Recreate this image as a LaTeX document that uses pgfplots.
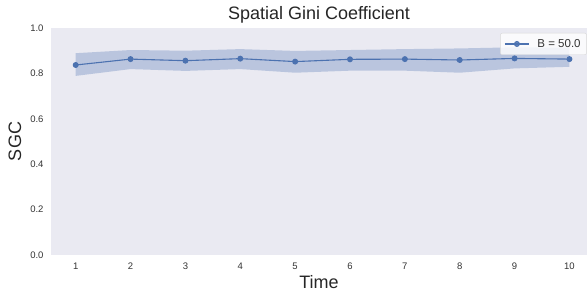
\documentclass[border=0pt]{standalone}
\usepackage{fontspec}
\setmainfont{Liberation Sans}
\usepackage{pgfplots}
\pgfplotsset{compat=1.18}
\usepgfplotslibrary{fillbetween}
\definecolor{sbblue}{HTML}{4C72B0}
\definecolor{sbbg}{HTML}{EAEAF2}
\definecolor{txt}{HTML}{333333}
\begin{document}
\begin{tikzpicture}[x=1pt,y=1pt]
\begin{axis}[
  at={(0pt,0pt)}, anchor=south west,
  scale only axis, width=536pt, height=227pt,
  xmin=0.55, xmax=10.32, ymin=0, ymax=1.0,
  axis background/.style={fill=sbbg},
  axis line style={draw=none},
  xtick={1,...,10}, ytick={0,0.2,0.4,0.6,0.8,1.0},
  yticklabel style={/pgf/number format/fixed,/pgf/number format/fixed zerofill,/pgf/number format/precision=1},
  /pgf/number format/assume math mode=true,
  tick style={draw=none},
  ticklabel style={font=\fontsize{9.5}{11}\selectfont, text=txt},
  xticklabel style={yshift=-4pt},
  yticklabel style={xshift=-4pt},
  xlabel={Time}, ylabel={SGC},
  label style={font=\fontsize{18}{20}\selectfont, text=black!85},
  xlabel style={yshift=1pt},
  ylabel style={yshift=2pt},
  title={Spatial Gini Coefficient},
  title style={font=\fontsize{18}{20}\selectfont, text=black!85, yshift=-5pt},
  legend style={at={(rel axis cs:0.838,0.978)}, anchor=north west,
    fill=white, fill opacity=0.8, text opacity=1, draw=black!15, rounded corners=2pt,
    font=\fontsize{11.5}{13}\selectfont, text=txt, inner xsep=4pt, inner ysep=4pt},
  legend cell align=left,
  legend image code/.code={
    \draw[mark repeat=2,mark phase=2] plot coordinates {(0pt,0pt)(12pt,0pt)(24pt,0pt)};},
]
\addplot[name path=up, draw=none, forget plot] coordinates {
(1,0.889)(2,0.903)(3,0.900)(4,0.907)(5,0.899)(6,0.903)(7,0.907)(8,0.910)(9,0.915)(10,0.913)};
\addplot[name path=lo, draw=none, forget plot] coordinates {
(1,0.789)(2,0.819)(3,0.811)(4,0.819)(5,0.803)(6,0.812)(7,0.812)(8,0.803)(9,0.822)(10,0.829)};
\addplot[sbblue, fill opacity=0.3, forget plot] fill between[of=up and lo];
\addplot[sbblue, line width=1.1pt, mark=*, mark size=2.4pt, mark options={solid}] coordinates {
(1,0.837)(2,0.863)(3,0.856)(4,0.865)(5,0.852)(6,0.862)(7,0.863)(8,0.859)(9,0.866)(10,0.863)};
\addlegendentry{\hspace{6pt}B = 50.0}
\end{axis}
\pgfresetboundingbox
\path[use as bounding box] (-51pt,-40pt) rectangle (536pt,255pt);
\end{tikzpicture}
\end{document}
